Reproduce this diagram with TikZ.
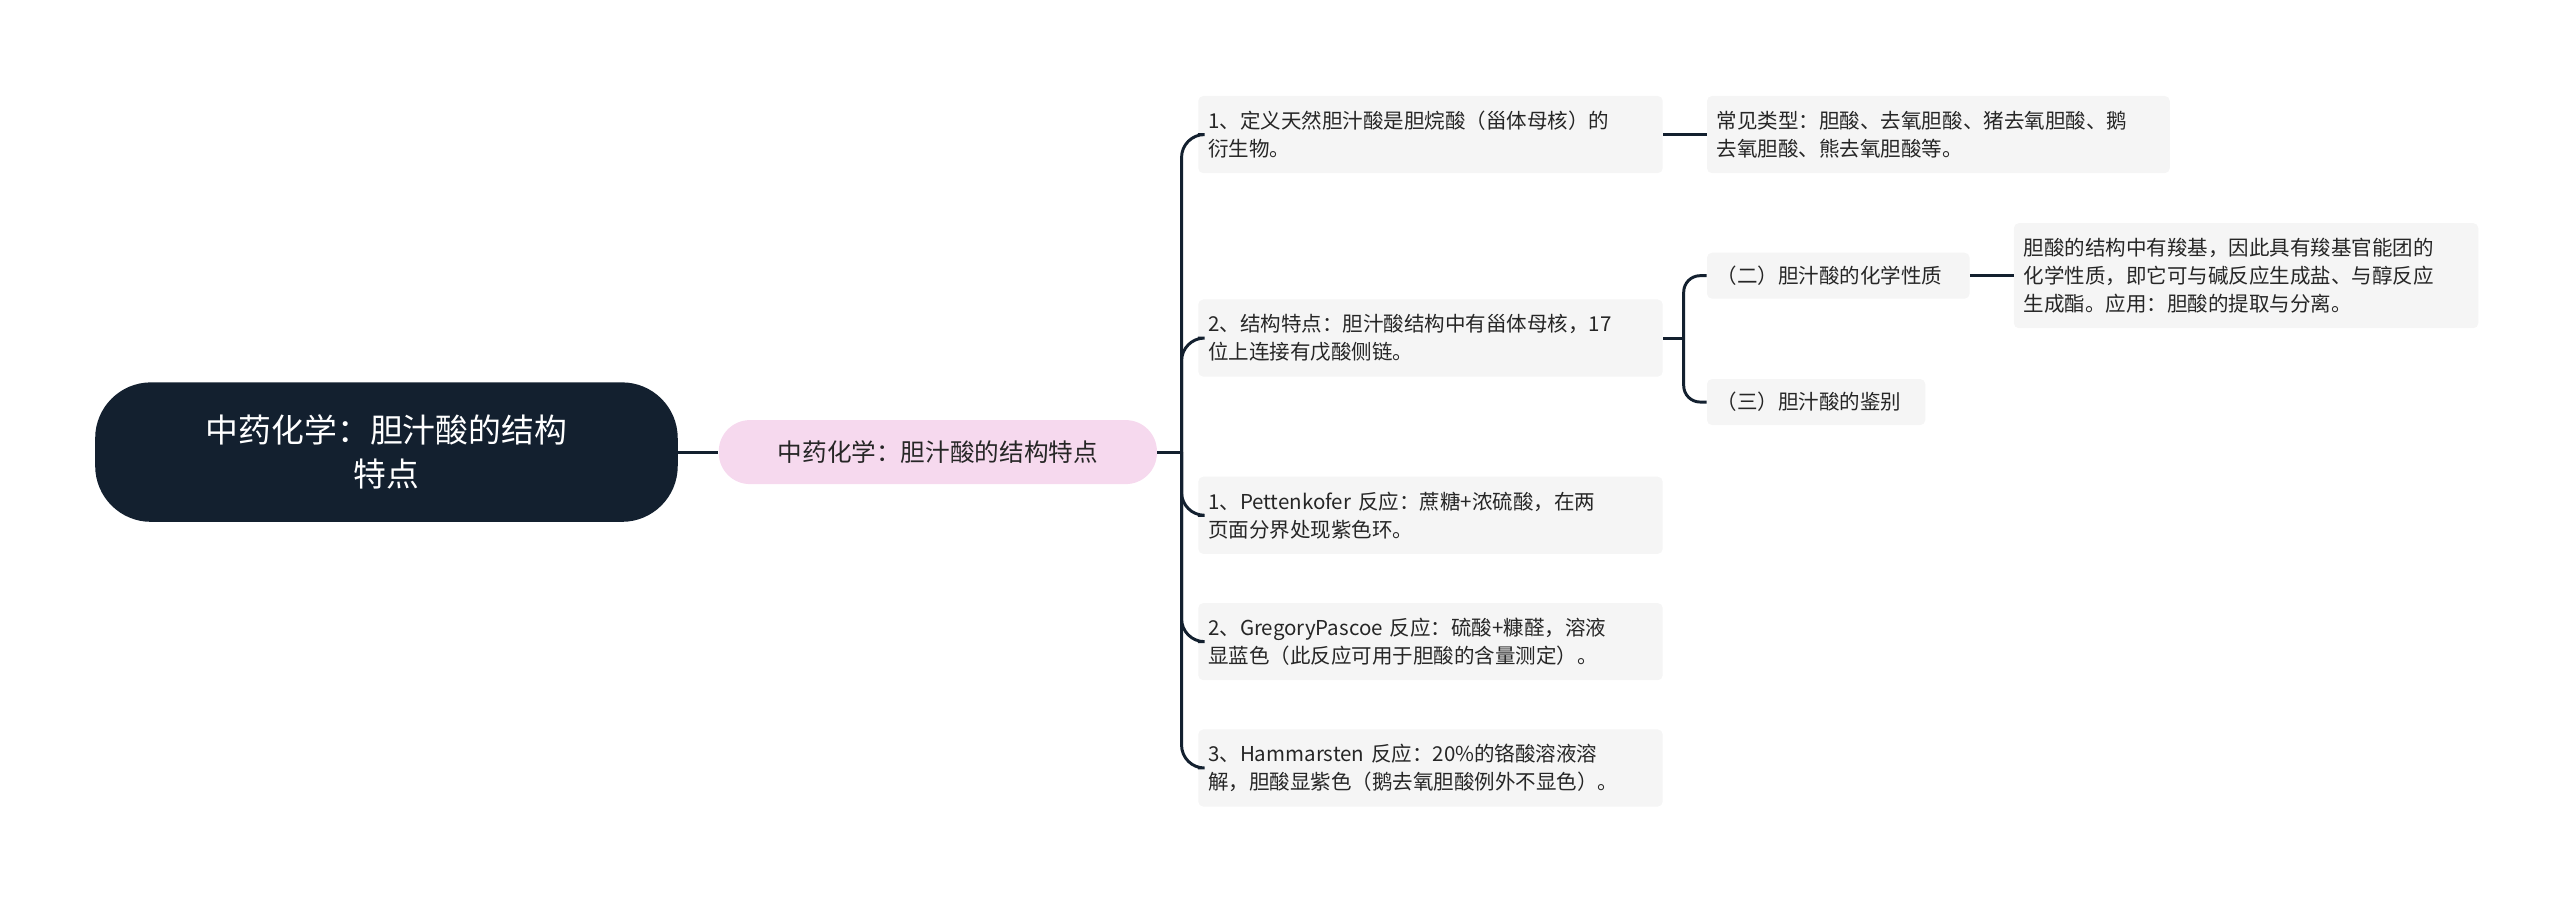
\documentclass[tikz,border=0pt]{standalone}
\usepackage{fontspec}
\setmainfont{Noto Sans CJK SC}
\definecolor{navy}{HTML}{13202F}
\definecolor{pinkf}{HTML}{F6D9EE}
\definecolor{leafg}{HTML}{F5F5F5}
\definecolor{txt}{HTML}{262626}
\begin{document}
\begin{tikzpicture}[x=1pt,y=1pt,
  line/.style={draw=navy,line width=1.8pt},
  leaf/.style={fill=leafg,rounded corners=3pt,anchor=west,align=left,font=\fontsize{12.5}{17}\selectfont,inner xsep=6pt,inner ysep=6pt,text=txt}]
\useasboundingbox (0,0) rectangle (1560,-548);
\node[fill=navy,rounded corners=34pt,minimum width=355,minimum height=85,text=white,align=center,font=\fontsize{20}{27}\selectfont] (root) at (235.5,-275.5) {中药化学：胆汁酸的结构\\特点};
\node[fill=pinkf,rounded corners=19pt,minimum width=267,minimum height=39,font=\fontsize{15}{18}\selectfont,text=txt] (l1) at (571.5,-275.5) {中药化学：胆汁酸的结构特点};
\node[leaf,text width=271,minimum height=47] (c1) at (730,-82) {1、定义天然胆汁酸是胆烷酸（甾体母核）的\\衍生物。};
\node[leaf,text width=271,minimum height=47] (c2) at (730,-206) {2、结构特点：胆汁酸结构中有甾体母核，17\\ 位上连接有戊酸侧链。};
\node[leaf,text width=271,minimum height=47] (c3) at (730,-314) {1、Pettenkofer 反应：蔗糖+浓硫酸，在两\\页面分界处现紫色环。};
\node[leaf,text width=271,minimum height=47] (c4) at (730,-391) {2、GregoryPascoe 反应：硫酸+糠醛，溶液\\显蓝色（此反应可用于胆酸的含量测定）。};
\node[leaf,text width=271,minimum height=47] (c5) at (730,-468) {3、Hammarsten 反应：20\%的铬酸溶液溶\\解，胆酸显紫色（鹅去氧胆酸例外不显色）。};
\node[leaf,text width=270,minimum height=47] (g1) at (1040,-82) {常见类型：胆酸、去氧胆酸、猪去氧胆酸、鹅\\去氧胆酸、熊去氧胆酸等。};
\node[leaf,text width=148,minimum height=28] (g2) at (1040,-168) {（二）胆汁酸的化学性质};
\node[leaf,text width=121,minimum height=28] (g3) at (1040,-245) {（三）胆汁酸的鉴别};
\node[leaf,text width=271,minimum height=64] (h) at (1227,-168) {胆酸的结构中有羧基，因此具有羧基官能团的\\化学性质，即它可与碱反应生成盐、与醇反应\\生成酯。应用：胆酸的提取与分离。};
\draw[line] (root.east) -- (l1.west);
\coordinate (t1) at (720,-275.5);
\draw[line] (l1.east) -- (t1);
\foreach \c in {c1,c2,c3,c4,c5}
  \draw[line,rounded corners=14pt] (t1) |- (\c.west);
\draw[line] (c1.east) -- (g1.west);
\coordinate (t2) at (1026,-206);
\draw[line] (c2.east) -- (t2);
\draw[line,rounded corners=10pt] (t2) |- (g2.west);
\draw[line,rounded corners=10pt] (t2) |- (g3.west);
\draw[line] (g2.east) -- (h.west);
\end{tikzpicture}
\end{document}
